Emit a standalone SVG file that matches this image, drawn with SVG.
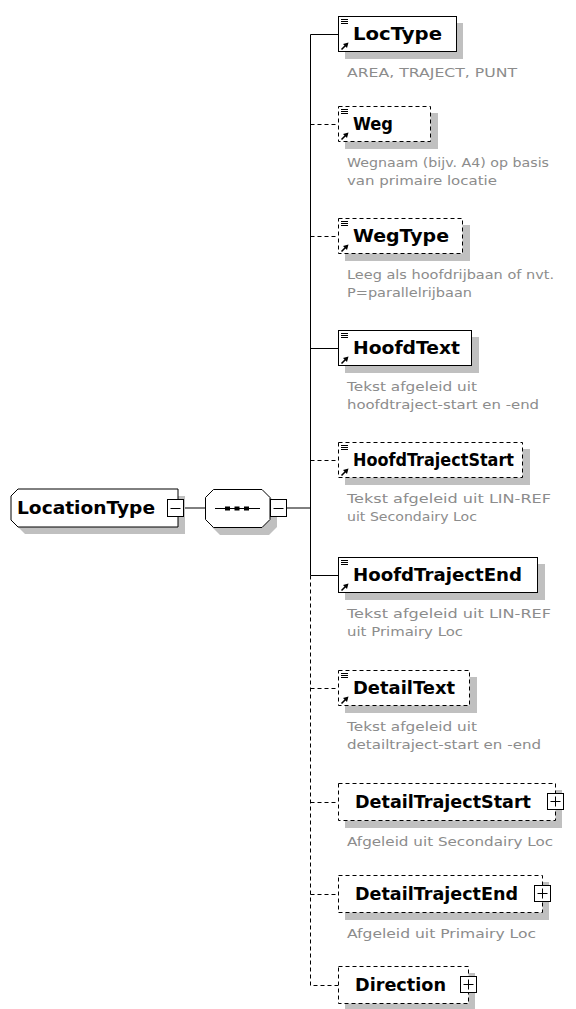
<svg xmlns="http://www.w3.org/2000/svg" xmlns:xlink="http://www.w3.org/1999/xlink" width="576" height="1009" viewBox="0 0 576 1009">
<style>
.box{fill:#fff;stroke:#000;stroke-width:1}
.opt{stroke-dasharray:4 3}
.sh{fill:#c0c0c0;stroke:none}
.lbl{font-family:"DejaVu Sans",Verdana,sans-serif;font-weight:bold;font-size:17px;fill:#000}
.ann{font-family:"DejaVu Sans",Verdana,sans-serif;font-size:13px;fill:#8c8c8c}
.conn{stroke:#000;stroke-width:1;fill:none}
.dash{stroke-dasharray:4 3}
.exp{fill:#fff;stroke:#000;stroke-width:1}
</style>
<defs>
<g id="ico">
<path d="M3,3.5h7M3,5.5h7M3,7.5h7" stroke="#000" stroke-width="1" fill="none"/>
<path d="M3.5,33.5L7.5,29.5" stroke="#000" stroke-width="1.6"/>
<polygon points="10.5,26.5 5,28 9,32" fill="#000"/>
</g>
<g id="plus">
<rect x="0.5" y="0.5" width="16" height="16" class="exp"/>
<path d="M3.5,8.5h10M8.5,3.5v10" stroke="#000" stroke-width="1"/>
</g>
</defs>

<g id="connectors">
<path class="conn" d="M183,508H205M287,508H310.5"/>
<path class="conn" d="M338,34.5H310.5V575.5H338M310.5,348.5H338"/>
<path class="conn dash" d="M310.5,575.5V985.5H338M310.5,124.5H338M310.5,236.5H338M310.5,460.5H338M310.5,688.5H338M310.5,802.5H338M310.5,894.5H338"/>
</g>

<g id="LocationType">
<path class="sh" d="M25,496H185V534H25L18,527V503Z"/>
<path class="box" d="M18,489H178V527H18L11,520V496Z" stroke-width="1.5"/>
<text class="lbl" x="17" y="514" textLength="138" lengthAdjust="spacingAndGlyphs">LocationType</text>
<rect class="exp" x="167.5" y="499.5" width="16" height="17"/>
<path d="M170.5,508.5h10" stroke="#000"/>
</g>

<g id="sequence">
<path class="sh" d="M220,496H269L277,504V527L269,535H220L212,527V504Z"/>
<path class="box" d="M213.5,489.5H262L270,497.5V519.5L262,527.5H213.5L205.5,519.5V497.5Z"/>
<path d="M215,508.5H260" stroke="#000"/>
<rect x="225" y="506.5" width="5" height="4" fill="#000"/>
<rect x="234.5" y="506.5" width="5" height="4" fill="#000"/>
<rect x="244" y="506.5" width="5" height="4" fill="#000"/>
<rect class="exp" x="270.5" y="499.5" width="16" height="17"/>
<path d="M273.5,508.5h10" stroke="#000"/>
</g>

<g id="LocType">
<rect class="sh" x="345" y="23" width="118" height="36"/>
<rect class="box" x="338.5" y="16.5" width="118" height="35"/>
<use xlink:href="#ico" x="338" y="16"/>
<text class="lbl" x="353" y="40" textLength="89" lengthAdjust="spacingAndGlyphs">LocType</text>
<text class="ann" x="347" y="77" textLength="170" lengthAdjust="spacingAndGlyphs">AREA, TRAJECT, PUNT</text>
</g>

<g id="Weg">
<rect class="sh" x="345" y="113" width="93" height="36"/>
<rect class="box opt" x="338.5" y="106.5" width="92" height="35"/>
<use xlink:href="#ico" x="338" y="106"/>
<text class="lbl" x="353" y="130" textLength="40" lengthAdjust="spacingAndGlyphs">Weg</text>
<text class="ann" x="347" y="167" textLength="202" lengthAdjust="spacingAndGlyphs">Wegnaam (bijv. A4) op basis</text>
<text class="ann" x="347" y="185" textLength="150" lengthAdjust="spacingAndGlyphs">van primaire locatie</text>
</g>

<g id="WegType">
<rect class="sh" x="345" y="225" width="125" height="36"/>
<rect class="box opt" x="338.5" y="218.5" width="124" height="35"/>
<use xlink:href="#ico" x="338" y="218"/>
<text class="lbl" x="353" y="242" textLength="96" lengthAdjust="spacingAndGlyphs">WegType</text>
<text class="ann" x="347" y="279" textLength="207" lengthAdjust="spacingAndGlyphs">Leeg als hoofdrijbaan of nvt.</text>
<text class="ann" x="347" y="297" textLength="125" lengthAdjust="spacingAndGlyphs">P=parallelrijbaan</text>
</g>

<g id="HoofdText">
<rect class="sh" x="345" y="337" width="134" height="36"/>
<rect class="box" x="338.5" y="330.5" width="133" height="35"/>
<use xlink:href="#ico" x="338" y="330"/>
<text class="lbl" x="353" y="354" textLength="107" lengthAdjust="spacingAndGlyphs">HoofdText</text>
<text class="ann" x="347" y="391" textLength="130" lengthAdjust="spacingAndGlyphs">Tekst afgeleid uit</text>
<text class="ann" x="347" y="409" textLength="192" lengthAdjust="spacingAndGlyphs">hoofdtraject-start en -end</text>
</g>

<g id="HoofdTrajectStart">
<rect class="sh" x="345" y="449" width="185" height="36"/>
<rect class="box opt" x="338.5" y="442.5" width="184" height="35"/>
<use xlink:href="#ico" x="338" y="442"/>
<text class="lbl" x="353" y="466" textLength="161" lengthAdjust="spacingAndGlyphs">HoofdTrajectStart</text>
<text class="ann" x="347" y="503" textLength="204" lengthAdjust="spacingAndGlyphs">Tekst afgeleid uit LIN-REF</text>
<text class="ann" x="347" y="521" textLength="130" lengthAdjust="spacingAndGlyphs">uit Secondairy Loc</text>
</g>

<g id="HoofdTrajectEnd">
<rect class="sh" x="345" y="564" width="200" height="36"/>
<rect class="box" x="338.5" y="557.5" width="199" height="35"/>
<use xlink:href="#ico" x="338" y="557"/>
<text class="lbl" x="353" y="581" textLength="169" lengthAdjust="spacingAndGlyphs">HoofdTrajectEnd</text>
<text class="ann" x="347" y="618" textLength="204" lengthAdjust="spacingAndGlyphs">Tekst afgeleid uit LIN-REF</text>
<text class="ann" x="347" y="636" textLength="116" lengthAdjust="spacingAndGlyphs">uit Primairy Loc</text>
</g>

<g id="DetailText">
<rect class="sh" x="345" y="677" width="132" height="36"/>
<rect class="box opt" x="338.5" y="670.5" width="131" height="35"/>
<use xlink:href="#ico" x="338" y="670"/>
<text class="lbl" x="353" y="694" textLength="102" lengthAdjust="spacingAndGlyphs">DetailText</text>
<text class="ann" x="347" y="731" textLength="130" lengthAdjust="spacingAndGlyphs">Tekst afgeleid uit</text>
<text class="ann" x="347" y="749" textLength="194" lengthAdjust="spacingAndGlyphs">detailtraject-start en -end</text>
</g>

<g id="DetailTrajectStart">
<rect class="sh" x="345" y="790" width="217" height="38"/>
<rect class="box opt" x="338.5" y="783.5" width="217" height="37"/>
<use xlink:href="#plus" x="547" y="793"/>
<text class="lbl" x="355" y="808" textLength="176" lengthAdjust="spacingAndGlyphs">DetailTrajectStart</text>
<text class="ann" x="347" y="846" textLength="206" lengthAdjust="spacingAndGlyphs">Afgeleid uit Secondairy Loc</text>
</g>

<g id="DetailTrajectEnd">
<rect class="sh" x="345" y="882" width="204" height="38"/>
<rect class="box opt" x="338.5" y="875.5" width="204" height="37"/>
<use xlink:href="#plus" x="534" y="885"/>
<text class="lbl" x="355" y="900" textLength="163" lengthAdjust="spacingAndGlyphs">DetailTrajectEnd</text>
<text class="ann" x="347" y="938" textLength="189" lengthAdjust="spacingAndGlyphs">Afgeleid uit Primairy Loc</text>
</g>

<g id="Direction">
<rect class="sh" x="345" y="973" width="130" height="38"/>
<rect class="box opt" x="338.5" y="966.5" width="130" height="37"/>
<use xlink:href="#plus" x="460" y="976"/>
<text class="lbl" x="355" y="991" textLength="91" lengthAdjust="spacingAndGlyphs">Direction</text>
</g>
</svg>
